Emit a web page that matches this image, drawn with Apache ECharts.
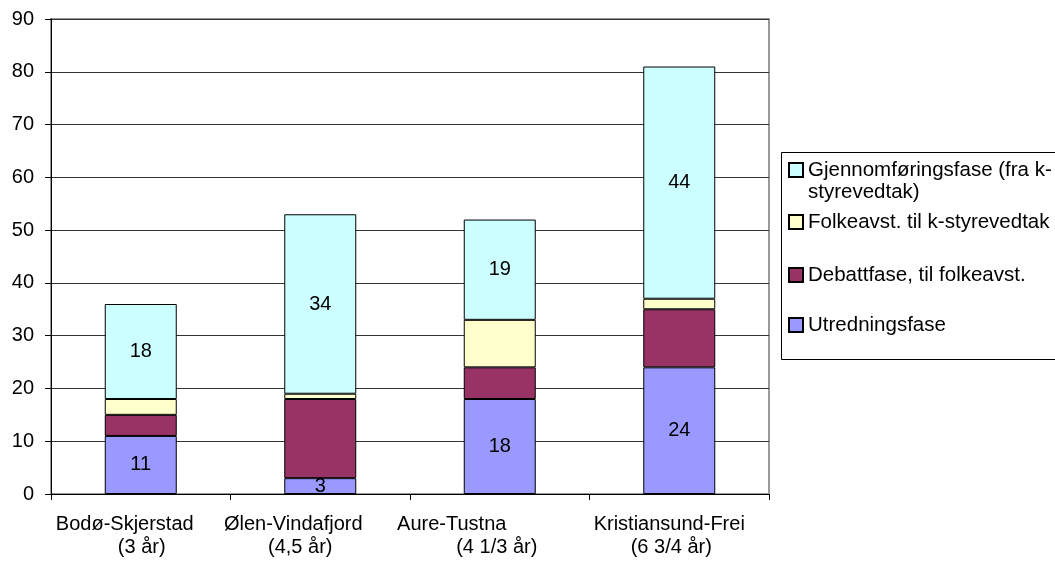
<!DOCTYPE html>
<html>
<head>
<meta charset="utf-8">
<script src="https://cdn.jsdelivr.net/npm/echarts@6/dist/echarts.min.js"></script>
<style>html,body{margin:0;padding:0;background:#fff;}#c{width:1055px;height:561px;}</style>
</head>
<body>
<div id="c"></div>
<script>
// ---- data ----
const categories = ['Bodø-Skjerstad', 'Ølen-Vindafjord', 'Aure-Tustna', 'Kristiansund-Frei'];
const durations = ['(3 år)', '(4,5 år)', '(4 1/3 år)', '(6 3/4 år)'];
const seriesNames = ['Utredningsfase', 'Debattfase, til folkeavst.', 'Folkeavst. til k-styrevedtak', 'Gjennomføringsfase (fra k-styrevedtak)'];
const utredning = [11, 3, 18, 24];
const debatt = [4, 15, 6, 11];
const folkeavst = [3, 1, 9, 2];
const gjennomforing = [18, 34, 19, 44];
const yTicks = [0, 10, 20, 30, 40, 50, 60, 70, 80, 90];

// ---- styling ----
const FONT = 'Liberation Sans, Arial, sans-serif';
const colors = ['#9999FF', '#993366', '#FFFFCC', '#CCFFFF'];
const showLabel = [true, false, false, true];
const values = [utredning, debatt, folkeavst, gjennomforing];
// horizontal shift (px) of each label line relative to the category centre
const line1Shift = [-16, -27, -48, -10];
const line2Shift = [1, -20, -3, -8];

const rich = {};
categories.forEach((c, i) => {
  const s1 = line1Shift[i], s2 = line2Shift[i];
  rich['a' + i] = {fontSize: 20, fontFamily: FONT, color: '#000', lineHeight: 23,
    padding: s1 < 0 ? [0, -2 * s1, 0, 0] : [0, 0, 0, 2 * s1]};
  rich['b' + i] = {fontSize: 20, fontFamily: FONT, color: '#000', lineHeight: 23,
    padding: s2 < 0 ? [0, -2 * s2, 0, 0] : [0, 0, 0, 2 * s2]};
});

const chart = echarts.init(document.getElementById('c'), null, {renderer: 'canvas'});

const series = seriesNames.map((n, k) => ({
  name: n,
  type: 'bar',
  stack: 'total',
  barWidth: 72,
  data: values[k],
  itemStyle: {color: colors[k], borderColor: '#000', borderWidth: 1},
  label: {show: showLabel[k], position: 'inside', color: '#000', fontSize: 20, fontFamily: FONT},
  emphasis: {disabled: true},
  animation: false
}));

const legendTops = [137, 211, 264, 314];
const legendOrder = [3, 2, 1, 0];
const legends = legendOrder.map((k, j) => ({
  data: [seriesNames[k]],
  orient: 'vertical',
  left: 788,
  top: legendTops[j],
  padding: 0,
  itemWidth: 14,
  itemHeight: 14,
  icon: 'rect',
  selectedMode: false,
  textStyle: {fontSize: 20.5, fontFamily: FONT, color: '#000', lineHeight: 22},
  formatter: k === 3 ? (name => ' \nGjennomføringsfase (fra k-\nstyrevedtak)') : undefined
}));

chart.setOption({
  animation: false,
  backgroundColor: '#fff',
  grid: {left: 51, top: 19, width: 718, height: 475, show: true, borderColor: '#999', borderWidth: 2, backgroundColor: 'transparent'},
  xAxis: {
    type: 'category',
    data: categories,
    axisLine: {lineStyle: {color: '#000', width: 1}},
    axisTick: {show: true, length: 6, lineStyle: {color: '#000'}},
    axisLabel: {
      margin: 19,
      interval: 0,
      formatter: (v, i) => '{a' + i + '|' + v + '}\n{b' + i + '|' + durations[i] + '}',
      rich: rich
    }
  },
  yAxis: {
    type: 'value',
    min: yTicks[0],
    max: yTicks[yTicks.length - 1],
    interval: 10,
    axisLine: {show: true, lineStyle: {color: '#000', width: 1}},
    axisTick: {show: true, length: 6, lineStyle: {color: '#000'}},
    axisLabel: {fontSize: 20, fontFamily: FONT, color: '#000', margin: 17},
    splitLine: {show: true, lineStyle: {color: '#333', width: 1}}
  },
  legend: legends,
  graphic: [{
    type: 'rect',
    shape: {x: 781.5, y: 152.5, width: 300, height: 207},
    style: {fill: 'none', stroke: '#000', lineWidth: 1},
    z: -1
  }],
  series: series
});
</script>
</body>
</html>
